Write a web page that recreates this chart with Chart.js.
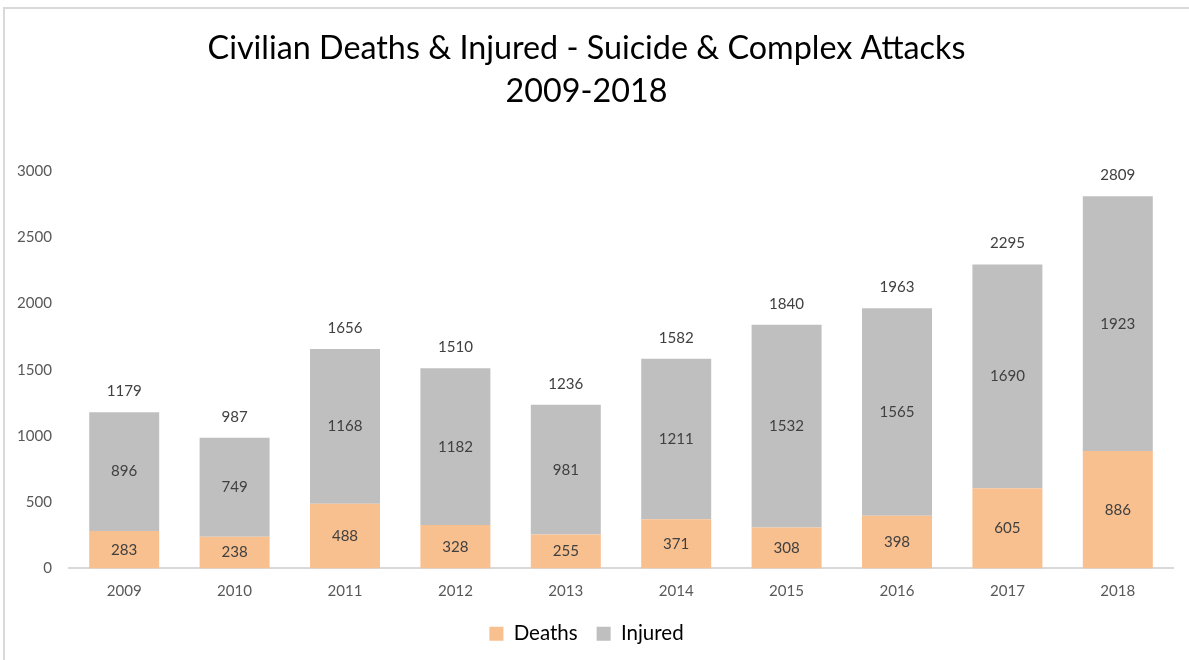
<!DOCTYPE html>
<html>
<head>
<meta charset="utf-8">
<script src="https://cdn.jsdelivr.net/npm/chart.js@4.4.1/dist/chart.umd.min.js"></script>
<style>
  html, body { margin: 0; padding: 0; background: #fff; }
  #wrap { position: relative; width: 1189px; height: 660px; overflow: hidden; }
  #frame { position: absolute; left: 3px; top: 7px; width: 1200px; height: 700px;
           border-top: 2px solid #D9D9D9; border-left: 2px solid #D9D9D9; box-sizing: border-box; }
  canvas { position: absolute; left: 0; top: 0; }
</style>
</head>
<body>
<div id="wrap">
  <div id="frame"></div>
  <canvas id="c" width="1189" height="660"></canvas>
</div>
<script>
const years = ['2009','2010','2011','2012','2013','2014','2015','2016','2017','2018'];
const deaths = [283, 238, 488, 328, 255, 371, 308, 398, 605, 886];
const injured = [896, 749, 1168, 1182, 981, 1211, 1532, 1565, 1690, 1923];
const titleLines = ['Civilian Deaths & Injured - Suicide & Complex Attacks', '2009-2018'];
const seriesNames = ['Deaths', 'Injured'];

const FONT = 'Lato, "Open Sans", sans-serif';

function fitSize(text, target, weight) {
  const ctx = document.createElement('canvas').getContext('2d');
  ctx.font = (weight || 'normal') + ' 100px ' + FONT;
  return 100 * target / ctx.measureText(text).width;
}

function draw() {
  const titleSize = fitSize(titleLines[0], 758);
  const numSize = fitSize('1179', 35);
  const legendSize = fitSize('Deaths', 64);

  const valueLabels = {
    id: 'valueLabels',
    afterDatasetsDraw(chart) {
      const ctx = chart.ctx;
      ctx.save();
      ctx.font = numSize + 'px ' + FONT;
      ctx.fillStyle = '#404040';
      ctx.textAlign = 'center';
      ctx.textBaseline = 'middle';
      chart.data.datasets.forEach((ds, di) => {
        const meta = chart.getDatasetMeta(di);
        meta.data.forEach((bar, i) => {
          ctx.fillText(String(ds.data[i]), bar.x, (bar.y + bar.base) / 2);
        });
      });
      const topMeta = chart.getDatasetMeta(chart.data.datasets.length - 1);
      topMeta.data.forEach((bar, i) => {
        const total = deaths[i] + injured[i];
        ctx.fillText(String(total), bar.x, bar.y - 21);
      });
      ctx.restore();
    }
  };

  new Chart(document.getElementById('c'), {
    type: 'bar',
    data: {
      labels: years,
      datasets: [
        { label: seriesNames[0], data: deaths, backgroundColor: '#F8BF8F', borderWidth: 0 },
        { label: seriesNames[1], data: injured, backgroundColor: '#BFBFBF', borderWidth: 0 }
      ]
    },
    options: {
      responsive: false,
      animation: false,
      devicePixelRatio: 1,
      layout: { padding: { left: 0, right: 16, top: 0, bottom: 6 } },
      datasets: { bar: { categoryPercentage: 1, barPercentage: 0.634 } },
      plugins: {
        title: {
          display: true,
          text: titleLines,
          color: '#000000',
          font: { family: FONT, size: titleSize, weight: 'normal', lineHeight: 43 / titleSize },
          padding: { top: 27, bottom: 58 }
        },
        legend: {
          display: true,
          position: 'bottom',
          labels: {
            color: '#000000',
            font: { family: FONT, size: legendSize },
            boxWidth: 14,
            boxHeight: 14,
            padding: 19
          }
        },
        tooltip: { enabled: false }
      },
      scales: {
        x: {
          stacked: true,
          grid: { display: false, drawTicks: false },
          border: { display: true, color: '#D9D9D9', width: 2 },
          ticks: { color: '#595959', font: { family: FONT, size: numSize }, padding: 14 },
          afterFit(scale) { scale.height -= 10; }
        },
        y: {
          stacked: true,
          min: 0,
          max: 3000,
          grid: { display: false, drawTicks: false },
          border: { display: false },
          ticks: { stepSize: 500, color: '#595959', font: { family: FONT, size: numSize }, padding: 17,
                   callback: (v) => String(v) },
          afterFit(scale) { scale.width = 69; }
        }
      }
    },
    plugins: [valueLabels]
  });
}

if (document.fonts && document.fonts.load) {
  document.fonts.load('16px Lato').then(draw, draw);
} else { draw(); }
</script>
</body>
</html>
